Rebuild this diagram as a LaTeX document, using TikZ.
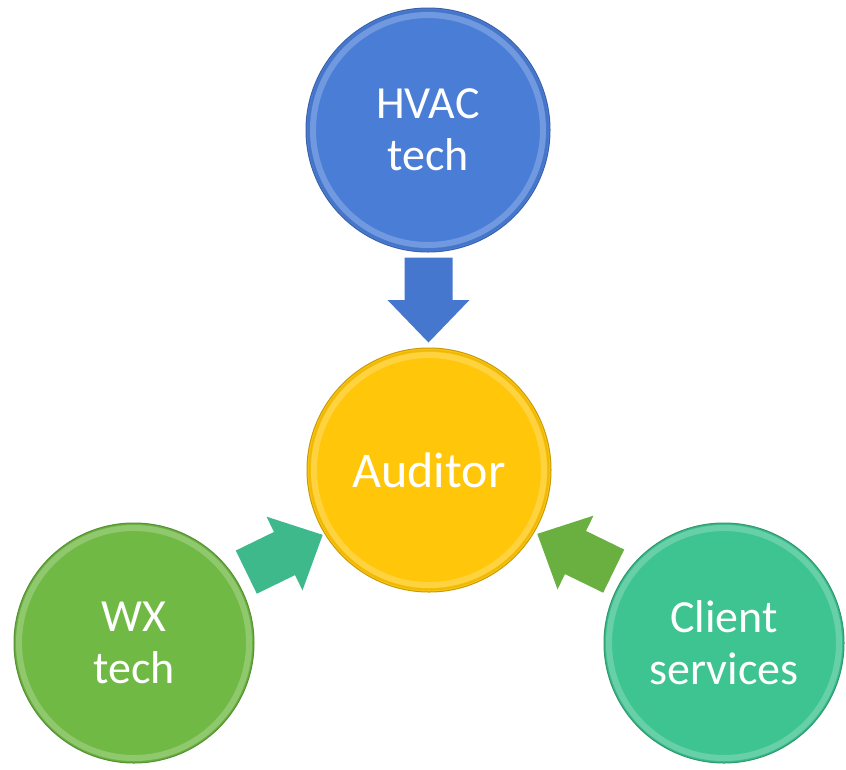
\documentclass[tikz,border=0pt]{standalone}
\usepackage{fontspec}
\setmainfont{Carlito}
\usetikzlibrary{calc}
\definecolor{hvacC}{HTML}{4A7DD6}
\definecolor{audC}{HTML}{FFC60A}
\definecolor{wxC}{HTML}{70B944}
\definecolor{cliC}{HTML}{3EC490}
\definecolor{arrBlue}{HTML}{4577CF}
\definecolor{arrTeal}{HTML}{3DB98C}
\definecolor{arrGreen}{HTML}{6AB041}
\tikzset{
  bubble/.style={circle, inner sep=0pt, minimum size=244pt, text=white,
    align=center, font=\fontsize{46}{52}\selectfont,
    fill=#1, draw=#1!78!black, line width=1pt,
    path picture={
      \draw[white, opacity=.22, line width=6pt]
        (path picture bounding box.center) circle (115pt);
      \draw[#1!80!black, opacity=.3, line width=2pt]
        (path picture bounding box.center) circle (119.5pt);
    }},
  blockarrow/.style={fill=#1, draw=none}
}
\newcommand{\blockarrowpath}{(-42.5,-24) -- (0,-24) -- (0,-41) -- (42.5,0) -- (0,41) -- (0,24) -- (-42.5,24) -- cycle}
\begin{document}
\begin{tikzpicture}[x=1pt,y=-1pt]
  \useasboundingbox (0,0) rectangle (846,769);
  \fill[white] (0,0) rectangle (846,769);

  \node[bubble=hvacC] (hvac) at (428,130) {HVAC\\tech};
  \node[bubble=audC, font=\fontsize{50}{54}\selectfont] (aud) at (429,470) {Auditor};
  \node[bubble=wxC, minimum size=240pt] (wx) at (134,643) {WX\\tech};
  \node[bubble=cliC, minimum size=240pt] (cli) at (724,643) {Client\\services};

  \coordinate (a1) at ($(hvac)!0.5!(aud)$);
  \coordinate (a2) at ($(wx)!0.5!(aud)+(3,-3)$);
  \coordinate (a3) at ($(cli)!0.5!(aud)+(-1,-4)$);

  \fill[blockarrow=arrBlue, shift={(a1)}, rotate=-90] \blockarrowpath;
  \fill[blockarrow=arrTeal, shift={(a2)}, rotate=26] \blockarrowpath;
  \fill[blockarrow=arrGreen, shift={(a3)}, rotate=154] \blockarrowpath;
\end{tikzpicture}
\end{document}
